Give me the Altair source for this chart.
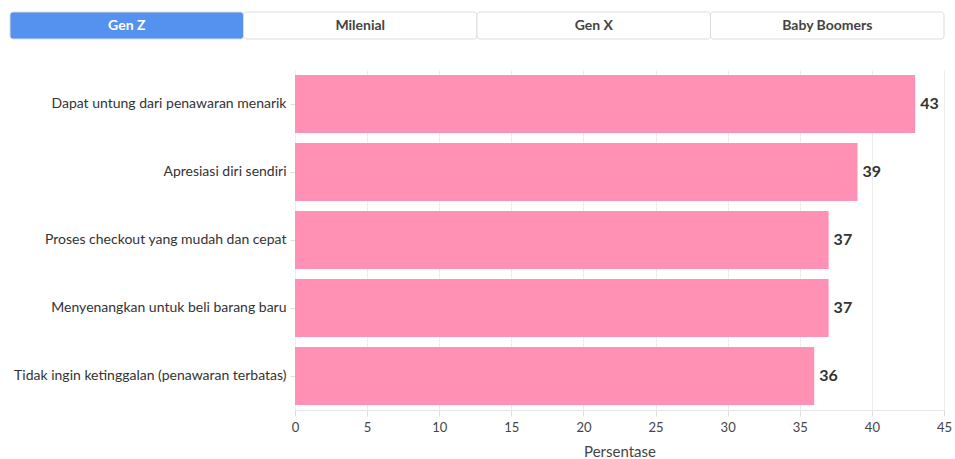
import altair as alt
import pandas as pd

# Data
tabs = ["Gen Z", "Milenial", "Gen X", "Baby Boomers"]
active_tab = "Gen Z"
categories = [
    "Dapat untung dari penawaran menarik",
    "Apresiasi diri sendiri",
    "Proses checkout yang mudah dan cepat",
    "Menyenangkan untuk beli barang baru",
    "Tidak ingin ketinggalan (penawaran terbatas)",
]
values = [43, 39, 37, 37, 36]

FONT = "Lato"
PLOT_W = 649
LEFT_EXT = 285  # space taken by category labels left of the plot

tab_df = pd.DataFrame({"tab": tabs, "active": [t == active_tab for t in tabs]})
bar_df = pd.DataFrame({"kategori": categories, "nilai": values})

# Tabs (span the label area plus the plot area)
tab_base = alt.Chart(tab_df).encode(
    x=alt.X("tab:N", sort=tabs, axis=None,
            scale=alt.Scale(paddingInner=0, paddingOuter=0, range=[-LEFT_EXT, PLOT_W])),
)
tab_rect = tab_base.mark_rect(stroke="#dddddd", strokeWidth=1, cornerRadius=3).encode(
    color=alt.condition("datum.active", alt.value("#5591ee"), alt.value("#ffffff")),
)
tab_text = tab_base.mark_text(font=FONT, fontSize=14, fontWeight="bold").encode(
    text="tab:N",
    color=alt.condition("datum.active", alt.value("#ffffff"), alt.value("#444444")),
)
tabs_chart = alt.layer(tab_rect, tab_text).properties(width=PLOT_W, height=27)

# Bars
y_enc = alt.Y("kategori:N", sort=None, title=None,
              scale=alt.Scale(paddingInner=0.15, paddingOuter=0.075),
              axis=alt.Axis(labelFont=FONT, labelFontSize=14, labelColor="#333333",
                            ticks=True, tickColor="#dddddd", tickSize=5,
                            domain=False, labelPadding=4, labelLimit=400))
bars = alt.Chart(bar_df).mark_bar(color="#ff91b5").encode(
    y=y_enc,
    x=alt.X("nilai:Q", title="Persentase",
            scale=alt.Scale(domain=[0, 45], nice=False),
            axis=alt.Axis(values=list(range(0, 50, 5)), labelFont=FONT, labelFontSize=13,
                          labelColor="#444444", tickColor="#dddddd", tickSize=6,
                          labelFlush=False,
                          domainColor="#e6e6e6", gridColor="#eeeeee",
                          titleFont=FONT, titleFontSize=15, titleFontWeight="normal",
                          titleColor="#444444", titlePadding=10, labelPadding=5)),
)
labels = alt.Chart(bar_df).mark_text(align="left", dx=5, font=FONT, fontSize=16,
                                     fontWeight="bold", color="#333333").encode(
    y=alt.Y("kategori:N", sort=None),
    x="nilai:Q",
    text="nilai:Q",
)
bar_chart = alt.layer(bars, labels).properties(width=PLOT_W, height=340)

chart = alt.vconcat(tabs_chart, bar_chart, spacing=30).properties(
    padding={"left": 9, "top": 11, "right": 0, "bottom": 0}
).configure_view(strokeWidth=0)

chart.save("out.html", embed_options={"renderer": "svg", "actions": False})
